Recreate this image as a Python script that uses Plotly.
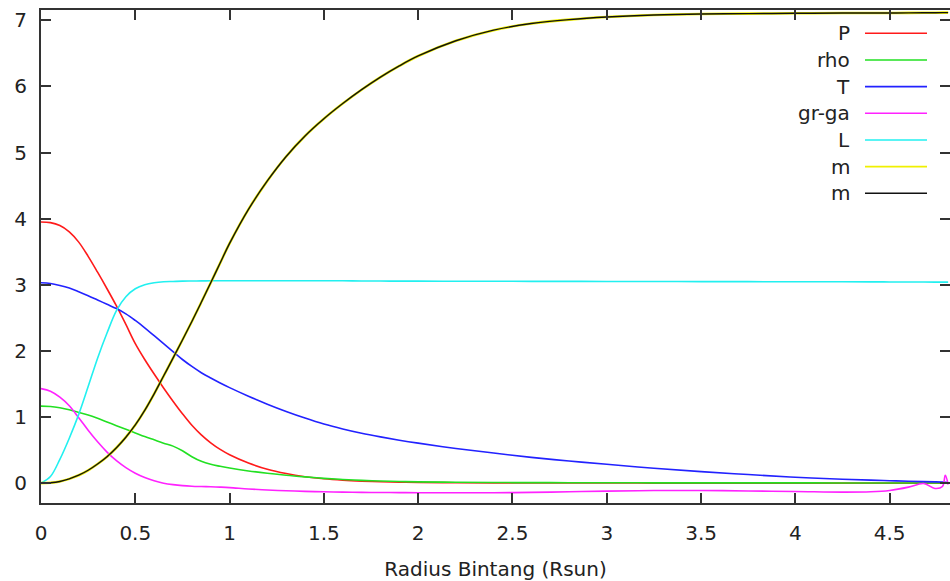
import plotly.graph_objects as go

# ---- data ----
radius = [0, 0.05, 0.1, 0.15, 0.2, 0.25, 0.3, 0.35, 0.4, 0.45, 0.5, 0.55, 0.6, 0.65, 0.7,
          0.75, 0.8, 0.85, 0.9, 0.95, 1.0, 1.1, 1.2, 1.3, 1.4, 1.5, 1.6, 1.7, 1.8, 1.9,
          2.0, 2.2, 2.4, 2.6, 2.8, 3.0, 3.25, 3.5, 3.75, 4.0, 4.25, 4.4, 4.5, 4.6, 4.68,
          4.74, 4.78, 4.795, 4.81]

P = [3.95, 3.94, 3.895, 3.80, 3.645, 3.43, 3.19, 2.94, 2.68, 2.40, 2.11, 1.87, 1.65, 1.44, 1.24,
     1.05, 0.875, 0.73, 0.61, 0.51, 0.43, 0.305, 0.21, 0.145, 0.098, 0.066, 0.045, 0.031, 0.021, 0.015,
     0.011, 0.006, 0.004, 0.003, 0.002, 0.002, 0.001, 0.001, 0.001, 0.001, 0.001, 0.001, 0.001, 0.001, 0.001,
     0.001, 0.001, 0.001, 0.001]

rho = [1.165, 1.16, 1.14, 1.11, 1.07, 1.03, 0.98, 0.925, 0.87, 0.815, 0.76, 0.705, 0.655, 0.605, 0.56,
       0.49, 0.40, 0.33, 0.285, 0.255, 0.228, 0.185, 0.15, 0.12, 0.095, 0.073, 0.056, 0.042, 0.032, 0.025,
       0.02, 0.014, 0.01, 0.008, 0.007, 0.006, 0.005, 0.005, 0.004, 0.004, 0.003, 0.003, 0.003, 0.003, 0.002,
       0.002, 0.002, 0.002, 0.002]

T = [3.03, 3.02, 2.99, 2.95, 2.895, 2.835, 2.77, 2.705, 2.64, 2.56, 2.46, 2.35, 2.23, 2.11, 1.99,
     1.87, 1.765, 1.67, 1.59, 1.515, 1.445, 1.315, 1.195, 1.085, 0.985, 0.895, 0.82, 0.755, 0.70, 0.65,
     0.605, 0.525, 0.455, 0.39, 0.335, 0.285, 0.225, 0.175, 0.13, 0.09, 0.06, 0.046, 0.037, 0.029, 0.023,
     0.019, 0.015, 0.013, 0.011]

gr_ga = [1.43, 1.39, 1.30, 1.17, 0.99, 0.80, 0.625, 0.47, 0.34, 0.235, 0.15, 0.085, 0.035, 0.0, -0.022,
         -0.037, -0.046, -0.051, -0.055, -0.06, -0.067, -0.088, -0.104, -0.115, -0.124, -0.13, -0.135, -0.139, -0.141, -0.143,
         -0.145, -0.146, -0.145, -0.14, -0.13, -0.12, -0.112, -0.11, -0.118, -0.125, -0.135, -0.13, -0.11, -0.06, -0.005,
         -0.08, -0.05, 0.12, -0.02]

L = [0.0, 0.10, 0.36, 0.68, 1.04, 1.46, 1.89, 2.27, 2.61, 2.82, 2.94, 3.00, 3.03, 3.045, 3.05,
     3.055, 3.057, 3.059, 3.06, 3.06, 3.06, 3.06, 3.06, 3.06, 3.06, 3.06, 3.06, 3.058, 3.056, 3.055,
     3.055, 3.054, 3.053, 3.052, 3.051, 3.05, 3.049, 3.048, 3.047, 3.046, 3.045, 3.044, 3.043, 3.042, 3.041,
     3.04, 3.04, 3.04, 3.04]

m = [0.0, 0.006, 0.025, 0.065, 0.12, 0.195, 0.29, 0.40, 0.535, 0.695, 0.88, 1.10, 1.35, 1.62, 1.89,
     2.165, 2.445, 2.735, 3.03, 3.33, 3.625, 4.14, 4.57, 4.94, 5.25, 5.51, 5.74, 5.95, 6.14, 6.31,
     6.46, 6.69, 6.85, 6.95, 7.01, 7.05, 7.08, 7.095, 7.10, 7.105, 7.11, 7.11, 7.11, 7.112, 7.113,
     7.114, 7.115, 7.115, 7.115]

series_names = ["P", "rho", "T", "gr-ga", "L", "m", "m"]
series_values = [P, rho, T, gr_ga, L, m, m]
series_colors = ["#ff1a1a", "#22e022", "#2222ff", "#ff22ff", "#22f0f0", "#f0f000", "#111111"]
series_widths = [1.6, 1.6, 1.6, 1.6, 1.6, 2.6, 1.4]

x_ticks = [0, 0.5, 1, 1.5, 2, 2.5, 3, 3.5, 4, 4.5]
y_ticks = [0, 1, 2, 3, 4, 5, 6, 7]
x_range = [0, 4.82]
y_range = [-0.3, 7.155]

FONT = "DejaVu Sans"
AX = "#333333"

fig = go.Figure()
for i, (name, vals, col, w) in enumerate(zip(series_names, series_values, series_colors, series_widths)):
    fig.add_trace(go.Scatter(
        x=radius, y=vals, name=name, mode="lines",
        line=dict(color=col, width=w, shape="spline", smoothing=1.0),
        yaxis="y2" if i >= 5 else "y",
        showlegend=False,
    ))

# custom gnuplot-style key: label on the left, line sample on the right
W, H = 950, 581
ml, mr, mt, mb = 41, 0, 10, 78
pw, ph = W - ml - mr, H - mt - mb
text_right = (852 - ml) / pw
line_x0 = (865 - ml) / pw
line_x1 = (927 - ml) / pw
row0 = 33.3
row_step = 26.67
for k, (name, col) in enumerate(zip(series_names, series_colors)):
    yy = 1 - (row0 + k * row_step - mt) / ph
    fig.add_annotation(xref="paper", yref="paper", x=text_right, y=yy, text=name,
                       showarrow=False, xanchor="right", yanchor="middle",
                       font=dict(family=FONT, size=20, color="#222222"))
    fig.add_shape(type="line", xref="paper", yref="paper", x0=line_x0, x1=line_x1,
                  y0=yy, y1=yy, line=dict(color=col, width=1.6))

axis_common = dict(
    showgrid=False, zeroline=False, ticks="inside", ticklen=10, tickwidth=1.5,
    tickcolor=AX, showline=True, linecolor=AX, linewidth=2, automargin=False,
    tickfont=dict(family=FONT, size=20, color="#222222"),
)

fig.update_layout(
    width=W, height=H,
    margin=dict(l=ml, r=mr, t=mt, b=mb, autoexpand=False),
    paper_bgcolor="white", plot_bgcolor="white",
    font=dict(family=FONT, size=20, color="#222222"),
    xaxis=dict(range=x_range, tickvals=x_ticks, mirror="ticks",
               ticklabelstandoff=11,
               title=dict(text="Radius Bintang (Rsun)", standoff=44,
                          font=dict(family=FONT, size=20, color="#222222")),
               **axis_common),
    yaxis=dict(range=y_range, tickvals=y_ticks, ticklabelstandoff=8, **axis_common),
    yaxis2=dict(range=y_range, tickvals=y_ticks, overlaying="y", side="right",
                showgrid=False, zeroline=False, ticks="inside", ticklen=10, tickwidth=1.5,
                tickcolor=AX, showline=False, showticklabels=False, automargin=False),
)

fig.write_html("out.html")
